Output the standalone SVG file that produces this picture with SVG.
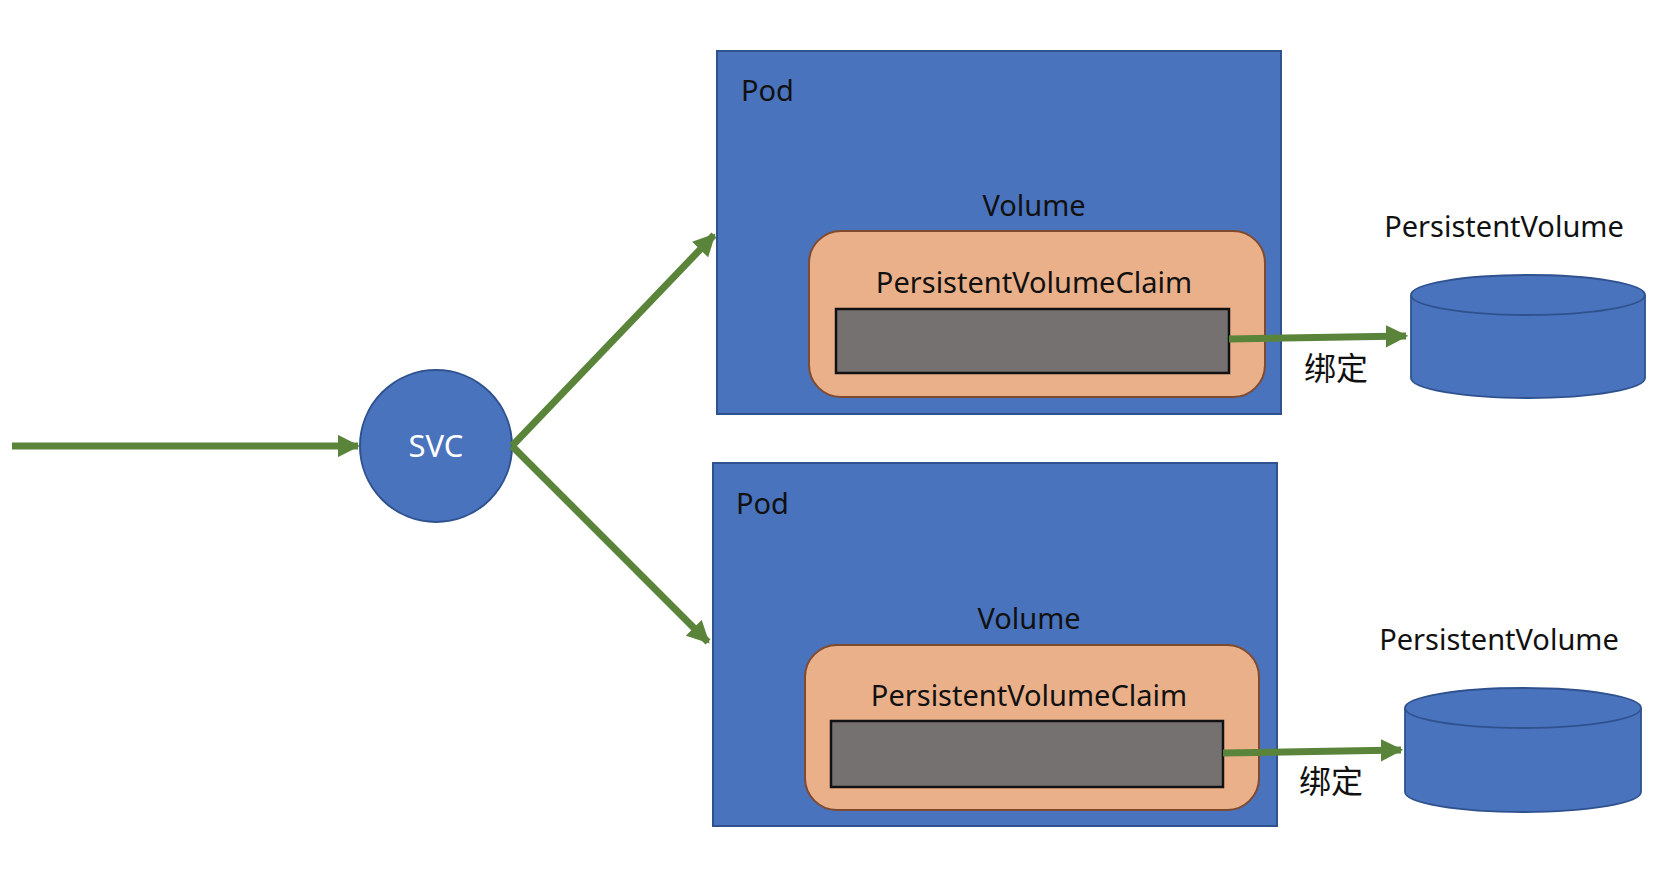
<svg xmlns="http://www.w3.org/2000/svg" width="1660" height="880" viewBox="0 0 1660 880">
<style>
.pod{fill:#4A73BD;stroke:#2F528F;stroke-width:2}
.pvc{fill:#EAB08A;stroke:#7F4A2E;stroke-width:2}
.box{fill:#767171;stroke:#111;stroke-width:2.5}
.cyl{fill:#4A73BD;stroke:#2F528F;stroke-width:1.8}
.t{font-family:"Noto Sans","Noto Sans CJK SC",sans-serif;font-size:29px;fill:#111}
.cjk{font-family:"Noto Sans CJK SC",sans-serif;font-size:32px;fill:#111}
.c{text-anchor:middle}
.edge{stroke:#5A843A;stroke-width:7;fill:none;marker-end:url(#ah)}
</style>
<defs>
<marker id="ah" viewBox="0 0 10 10" refX="9" refY="5" markerWidth="3.2" markerHeight="3.2" orient="auto" markerUnits="strokeWidth">
<path d="M0,0 L10,5 L0,10 z" fill="#5A843A"/>
</marker>
</defs>
<rect width="1660" height="880" fill="#fff"/>
<g id="svc">
<circle cx="436" cy="446" r="76" class="pod"/>
<text x="436" y="457" class="t c" style="fill:#fff;font-size:31px">SVC</text>
</g>
<g id="pod1">
<rect x="717" y="51" width="564" height="363" class="pod"/>
<text x="741" y="101" class="t">Pod</text>
<text x="1034" y="216" class="t c">Volume</text>
<rect x="809" y="231" width="456" height="166" rx="32" class="pvc"/>
<text x="1034" y="293" class="t c">PersistentVolumeClaim</text>
<rect x="836" y="309" width="393" height="64" class="box"/>
</g>
<g id="pod2">
<rect x="713" y="463" width="564" height="363" class="pod"/>
<text x="736" y="514" class="t">Pod</text>
<text x="1029" y="629" class="t c">Volume</text>
<rect x="805" y="645" width="454" height="165" rx="32" class="pvc"/>
<text x="1029" y="706" class="t c">PersistentVolumeClaim</text>
<rect x="831" y="721" width="392" height="66" class="box"/>
</g>
<g id="pv1">
<text x="1504" y="237" class="t c">PersistentVolume</text>
<path d="M1411,295 L1411,378 A117,20 0 0 0 1645,378 L1645,295" class="cyl"/>
<ellipse cx="1528" cy="295" rx="117" ry="20" class="cyl"/>
</g>
<g id="pv2">
<text x="1499" y="650" class="t c">PersistentVolume</text>
<path d="M1405,708 L1405,792 A118,20 0 0 0 1641,792 L1641,708" class="cyl"/>
<ellipse cx="1523" cy="708" rx="118" ry="20" class="cyl"/>
</g>
<g id="connectors">
<line x1="12" y1="446" x2="358" y2="446" class="edge"/>
<line x1="512" y1="446" x2="714" y2="235" class="edge"/>
<line x1="512" y1="446" x2="708" y2="642" class="edge"/>
<line x1="1229" y1="339" x2="1406" y2="336" class="edge"/>
<line x1="1223" y1="753" x2="1401" y2="750" class="edge"/>
<text x="1336" y="380" class="cjk c">绑定</text>
<text x="1331" y="793" class="cjk c">绑定</text>
</g>
</svg>
